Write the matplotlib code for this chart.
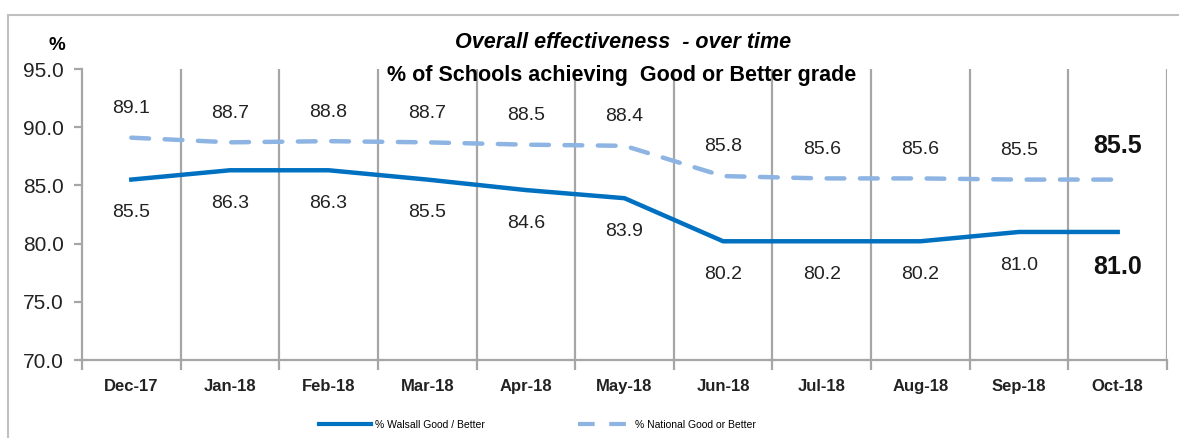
import matplotlib
matplotlib.use("Agg")
import matplotlib.pyplot as plt
from matplotlib.patches import Rectangle
from matplotlib.lines import Line2D
import numpy as np

plt.rcParams["font.family"] = ["Liberation Sans", "DejaVu Sans"]

# data
months = ["Dec-17", "Jan-18", "Feb-18", "Mar-18", "Apr-18", "May-18",
          "Jun-18", "Jul-18", "Aug-18", "Sep-18", "Oct-18"]
walsall = [85.5, 86.3, 86.3, 85.5, 84.6, 83.9, 80.2, 80.2, 80.2, 81.0, 81.0]
national = [89.1, 88.7, 88.8, 88.7, 88.5, 88.4, 85.8, 85.6, 85.6, 85.5, 85.5]

walsall_col = "#0070C0"
national_col = "#8DB4E2"
grid_col = "#A6A6A6"

fig = plt.figure(figsize=(11.79, 4.38), dpi=100)
ax = fig.add_axes([82 / 1179, 1 - 360 / 438, (1167 - 82) / 1179, (360 - 69) / 438])

# outer chart border
fig.patches.append(Rectangle((8 / 1179, -0.01), 1.1, 1 - 15 / 438 + 0.01,
                             transform=fig.transFigure, fill=False,
                             edgecolor="#BFBFBF", linewidth=1.5))

x = np.arange(len(months))
ax.plot(x, national, color=national_col, linewidth=3.2, linestyle=(0, (4, 3.5)),
        solid_capstyle="round", dash_capstyle="round", label="% National Good or Better")
ax.plot(x, walsall, color=walsall_col, linewidth=3.2, label="% Walsall Good / Better")

ax.set_xlim(-0.5, len(months) - 0.5)
ax.set_ylim(70, 95)
ax.set_yticks(np.arange(70, 96, 5))
ax.set_yticklabels([f"{v:.1f}" for v in np.arange(70, 96, 5)], fontsize=15, color="#222222")

# vertical gridlines at category boundaries
bounds = np.arange(-0.5, len(months), 1.0)
ax.set_xticks(bounds)
ax.set_xticklabels([])
ax.set_xticks(x, minor=True)
ax.set_xticklabels(months, minor=True, fontsize=12, fontweight="bold", color="#222222")
ax.tick_params(axis="x", which="minor", length=0, pad=14)
ax.tick_params(axis="x", which="major", length=7, color=grid_col, width=1.6)
ax.tick_params(axis="y", length=6, color=grid_col, width=1.6, pad=7)
for b in bounds[1:]:
    ax.axvline(b, color=grid_col, linewidth=1.6, zorder=0)

for s in ["top", "right"]:
    ax.spines[s].set_visible(False)
for s in ["left", "bottom"]:
    ax.spines[s].set_color(grid_col)
    ax.spines[s].set_linewidth(1.6)

# data labels
last = len(months) - 1
for i in range(len(months)):
    if i == last:
        kw = dict(fontsize=18, fontweight="bold", color="#111111")
        up, down = 24, -25
    else:
        kw = dict(fontsize=14, color="#222222")
        up, down = 21, -24
    ax.annotate(f"{national[i]:.1f}", (x[i], national[i]), xytext=(0, up),
                textcoords="offset points", ha="center", va="center", **kw)
    ax.annotate(f"{walsall[i]:.1f}", (x[i], walsall[i]), xytext=(0, down),
                textcoords="offset points", ha="center", va="center", **kw)

# titles
fig.text(623 / 1179, 1 - 42 / 438, "Overall effectiveness  - over time",
         ha="center", va="center", fontsize=15.5, fontweight="bold", style="italic")
fig.text(622 / 1179, 1 - 75 / 438, "% of Schools achieving  Good or Better grade",
         ha="center", va="center", fontsize=15.5, fontweight="bold")
fig.text(57 / 1179, 1 - 45 / 438, "%", ha="center", va="center", fontsize=13.5, fontweight="bold")

# legend
handles = [Line2D([], [], color=walsall_col, linewidth=3),
           Line2D([], [], color=national_col, linewidth=3, linestyle=(0, (4, 3.5)))]
fig.legend(handles, ["% Walsall Good / Better", "% National Good or Better"],
           loc="center", bbox_to_anchor=(537 / 1179, 1 - 425 / 438), ncol=2, frameon=False,
           fontsize=7.5, handlelength=5, columnspacing=9, handletextpad=0.4)

fig.savefig("out.png", dpi=100)
